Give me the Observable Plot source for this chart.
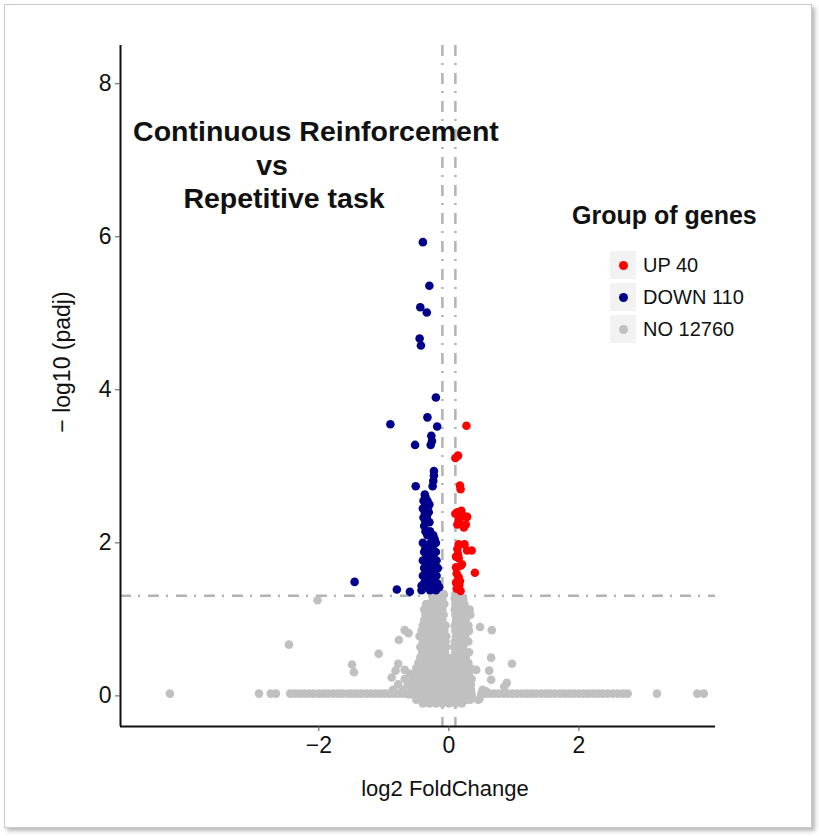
<!DOCTYPE html>
<html><head><meta charset="utf-8">
<script src="https://cdn.jsdelivr.net/npm/d3@7"></script>
<script src="https://cdn.jsdelivr.net/npm/@observablehq/plot@0.6"></script>
<style>
body{margin:0;background:#fff;font-family:"Liberation Sans",Arial,sans-serif;}
#wrap{position:relative;width:819px;height:836px;overflow:hidden;background:#fff;}
#frame{position:absolute;left:4px;top:4px;width:806px;height:822px;border:1px solid #c9c9c9;box-shadow:3px 3px 4px rgba(0,0,0,0.28);background:#fff;}
#chart{position:absolute;left:0;top:0;}
.t{position:absolute;white-space:nowrap;color:#111;}
.ttl{font-weight:bold;font-size:28.5px;line-height:33px;width:440px;text-align:center;}
.key{position:absolute;left:610px;width:26px;height:28px;background:#f2f2f2;}
.dotk{position:absolute;left:8.5px;top:9.5px;width:9px;height:9px;border-radius:50%;}
.lab{position:absolute;left:643px;font-size:20px;line-height:28px;color:#111;white-space:nowrap;}
</style></head>
<body>
<div id="wrap">
  <div id="frame"></div>
  <div id="chart"></div>
  <div class="t ttl" style="left:96px;top:115px;">Continuous Reinforcement</div>
  <div class="t ttl" style="left:52px;top:149px;">vs</div>
  <div class="t ttl" style="left:64px;top:182px;">Repetitive task</div>
  <div id="legend"></div>
  <div class="t" style="left:-38px;top:348px;width:200px;height:28px;line-height:28px;text-align:center;font-size:23px;transform:rotate(-90deg);">− log10 (padj)</div>
  <div class="t" style="left:245px;top:775px;width:400px;height:28px;line-height:28px;text-align:center;font-size:22px;">log2 FoldChange</div>
</div>
<script>
// ---- data ----
const groupNames = ["UP 40", "DOWN 110", "NO 12760"];
const groupColors = ["#ff0000", "#00008b", "#c0c0c0"];
const xDomain = [-5.05, 4.1];
const yDomain = [-0.4, 8.5];
const xTicks = [-2, 0, 2];
const yTicks = [0, 2, 4, 6, 8];
const padjCut = [1.31];
const fcCut = [-0.1, 0.1];

// UP (red) points [log2FC, -log10 padj]
const upPoints = [
  [0.27,3.53],[0.14,3.14],[0.10,3.11],[0.17,2.75],[0.18,2.70],[0.13,2.40],[0.23,2.35],[0.26,2.24],
  [0.13,2.24],[0.15,2.30],[0.16,2.27],[0.23,2.20],[0.15,1.98],[0.24,1.98],[0.28,1.90],[0.11,1.82],
  [0.15,1.80],[0.11,1.68],[0.18,1.70],[0.15,1.55],[0.11,1.48],[0.15,1.42],[0.18,1.37],[0.40,1.61],
  [0.35,1.90],[0.14,1.85],[0.20,1.72],[0.17,1.50],[0.12,1.60],[0.13,1.92],[0.10,2.38],[0.19,2.42],
  [0.28,2.34],[0.12,1.40],[0.16,1.45]
];

// DOWN (blue) isolated points
const downPoints = [
  [-0.40,5.93],[-0.30,5.36],[-0.44,5.08],[-0.34,5.01],[-0.45,4.67],[-0.43,4.58],[-0.20,3.90],[-0.90,3.55],
  [-0.33,3.64],[-0.18,3.52],[-0.27,3.40],[-0.26,3.33],[-0.28,3.28],[-0.52,3.28],[-0.23,2.94],[-0.23,2.88],
  [-0.24,2.81],[-0.25,2.74],[-0.51,2.74],[-0.36,2.60],[-1.45,1.49],[-0.80,1.39],[-0.60,1.36],[-0.42,1.44]
];
// DOWN (blue) dense block, rows of [y, x values]
const downRows = [
  [2.63,[-0.37]],[2.55,[-0.39,-0.33]],[2.50,[-0.36,-0.30]],[2.45,[-0.40,-0.33]],[2.40,[-0.37,-0.31]],
  [2.33,[-0.39,-0.34]],[2.27,[-0.36,-0.30]],[2.22,[-0.38]],[2.15,[-0.36,-0.29]],[2.10,[-0.33,-0.24]],
  [2.05,[-0.22]],[2.00,[-0.40,-0.28,-0.20]],[1.93,[-0.36,-0.25]],[1.88,[-0.38,-0.30,-0.20]],
  [1.82,[-0.34,-0.24]],[1.77,[-0.40,-0.28,-0.19]],[1.72,[-0.35,-0.22]],[1.67,[-0.38,-0.30,-0.17]],
  [1.62,[-0.33,-0.24]],[1.57,[-0.40,-0.28,-0.19]],[1.52,[-0.36,-0.22]],[1.47,[-0.38,-0.30,-0.18]],
  [1.42,[-0.33,-0.24,-0.15]],[1.38,[-0.42,-0.29,-0.20]]
];

// NO (grey) central cluster, rows of [y, x values]
const noRows = [
  [1.33,[-0.15,-0.08,0.10,0.16]],
  [1.27,[-0.25,-0.18,-0.10,0.09,0.15,0.22]],
  [1.20,[-0.35,-0.28,-0.21,-0.14,-0.07,0.10,0.17,0.24]],
  [1.13,[-0.38,-0.31,-0.24,-0.17,-0.10,0.09,0.16,0.23,0.32]],
  [1.06,[-0.36,-0.29,-0.22,-0.15,-0.08,0.10,0.17,0.25,0.33]],
  [0.99,[-0.38,-0.31,-0.24,-0.17,-0.10,0.11,0.18,0.26]],
  [0.92,[-0.40,-0.33,-0.26,-0.19,-0.12,-0.05,0.09,0.16,0.23,0.30]],
  [0.85,[-0.42,-0.35,-0.28,-0.21,-0.14,-0.07,0.10,0.17,0.24,0.31]],
  [0.78,[-0.45,-0.38,-0.31,-0.24,-0.17,-0.10,-0.04,0.11,0.18,0.25]],
  [0.71,[-0.40,-0.33,-0.26,-0.19,-0.12,-0.05,0.09,0.16,0.23,0.30]],
  [0.64,[-0.44,-0.37,-0.30,-0.23,-0.16,-0.09,-0.04,0.08,0.15,0.22]],
  [0.57,[-0.41,-0.34,-0.27,-0.20,-0.13,-0.06,0.10,0.17,0.24,0.31]],
  [0.50,[-0.44,-0.37,-0.30,-0.23,-0.16,-0.09,-0.02,0.07,0.12,0.19,0.26]],
  [0.43,[-0.47,-0.40,-0.33,-0.26,-0.19,-0.12,-0.05,0.02,0.09,0.16,0.23,0.30]],
  [0.36,[-0.50,-0.43,-0.36,-0.29,-0.22,-0.15,-0.08,-0.01,0.06,0.13,0.20,0.27,0.33]],
  [0.29,[-0.60,-0.53,-0.46,-0.39,-0.32,-0.25,-0.18,-0.11,-0.04,0.03,0.10,0.17,0.24,0.31]],
  [0.22,[-0.68,-0.55,-0.48,-0.41,-0.34,-0.27,-0.20,-0.13,-0.06,0.01,0.08,0.15,0.22,0.29,0.35]],
  [0.15,[-0.78,-0.63,-0.56,-0.49,-0.42,-0.35,-0.28,-0.21,-0.14,-0.07,0.00,0.07,0.14,0.21,0.28,0.34]],
  [0.08,[-0.86,-0.70,-0.57,-0.50,-0.43,-0.36,-0.29,-0.22,-0.15,-0.08,-0.01,0.06,0.13,0.20,0.27,0.34]],
  [0.02,[-0.62,-0.55,-0.48,-0.41,-0.34,-0.27,-0.20,-0.13,-0.06,0.01,0.08,0.15,0.22,0.29,0.35]],
  [-0.05,[-0.50,-0.43,-0.36,-0.29,-0.22,-0.15,-0.08,-0.01,0.06,0.13,0.20,0.27,0.33,0.45]],
  [-0.10,[-0.40,-0.30,-0.20,-0.10,0.00,0.10,0.20]]
];
// NO (grey) points along the zero line
const noBaseX = [
  -4.29,-2.92,-2.74,-2.66,-2.44,-2.37,-2.30,-2.22,-2.15,-2.08,-2.00,-1.93,-1.86,-1.78,-1.71,-1.64,
  -1.56,-1.49,-1.42,-1.35,-1.27,-1.20,-1.13,-1.05,-0.98,-0.91,-0.84,-0.77,-0.70,
  0.50,0.56,0.62,0.69,0.76,0.84,0.91,0.98,1.05,1.13,1.20,1.27,1.34,1.42,1.49,1.56,1.63,1.71,1.78,
  1.85,1.92,2.00,2.07,2.14,2.22,2.29,2.36,2.44,2.52,2.60,2.68,2.75,3.20,3.82,3.92
];
// NO (grey) scattered points
const noScatter = [
  [-2.02,1.25],[-2.46,0.67],[-1.49,0.41],[-1.46,0.31],[-1.08,0.55],[-0.77,0.73],[-0.68,0.86],[-0.62,0.82],
  [0.48,0.90],[0.66,0.86],[0.65,0.50],[0.97,0.42],[0.42,0.34],[0.62,0.33],[0.65,0.21],[0.89,0.17],
  [0.85,0.12],[-0.78,0.42],[-0.82,0.33],[-0.88,0.24],[-0.68,0.34],[0.52,0.08],[0.57,0.06],[0.47,-0.04]
];

// ---- build tables ----
const toObj = ([x, y]) => ({x, y});
const upData = upPoints.map(toObj);
const downData = downPoints.map(toObj).concat(downRows.flatMap(([y, xs]) => xs.map(x => ({x, y}))));
const noData = noRows.flatMap(([y, xs]) => xs.map(x => ({x, y})))
  .concat(noBaseX.map(x => ({x, y: 0.03})))
  .concat(noScatter.map(toObj));

const lineStyle = {stroke: "#b3b3b3", strokeWidth: 2.5, strokeDasharray: "11 7 2 8"};

const chart = Plot.plot({
  width: 819, height: 800,
  marginLeft: 120, marginRight: 104, marginTop: 45, marginBottom: 74,
  x: {domain: xDomain},
  y: {domain: yDomain},
  style: {fontSize: "23px", fontFamily: "Liberation Sans, Arial, sans-serif", color: "#111", background: "transparent", overflow: "visible"},
  marks: [
    Plot.ruleY(padjCut, lineStyle),
    Plot.ruleX(fcCut, lineStyle),
    Plot.dot(noData, {x: "x", y: "y", r: 4.3, fill: groupColors[2]}),
    Plot.dot(downData, {x: "x", y: "y", r: 4.3, fill: groupColors[1]}),
    Plot.dot(upData, {x: "x", y: "y", r: 4.3, fill: groupColors[0]}),
    Plot.ruleX([xDomain[0]], {stroke: "#111", strokeWidth: 2}),
    Plot.ruleY([yDomain[0]], {stroke: "#111", strokeWidth: 2}),
    Plot.axisX({ticks: xTicks, tickSize: 5, tickPadding: 5, label: null, stroke: "#555"}),
    Plot.axisY({ticks: yTicks, tickSize: 5, tickPadding: 4, label: null, stroke: "#555"})
  ]
});
document.getElementById("chart").appendChild(chart);

// ---- legend ----
const lg = document.getElementById("legend");
const lt = document.createElement("div");
lt.className = "t";
lt.style.cssText = "left:572px;top:201px;font-size:25px;line-height:28px;font-weight:bold;";
lt.textContent = "Group of genes";
lg.appendChild(lt);
groupNames.forEach((name, i) => {
  const top = 251 + i * 32;
  const k = document.createElement("div");
  k.className = "key";
  k.style.top = top + "px";
  const d = document.createElement("div");
  d.className = "dotk";
  d.style.background = groupColors[i];
  k.appendChild(d);
  lg.appendChild(k);
  const l = document.createElement("div");
  l.className = "lab";
  l.style.top = top + "px";
  l.textContent = name;
  lg.appendChild(l);
});
</script>
</body></html>
